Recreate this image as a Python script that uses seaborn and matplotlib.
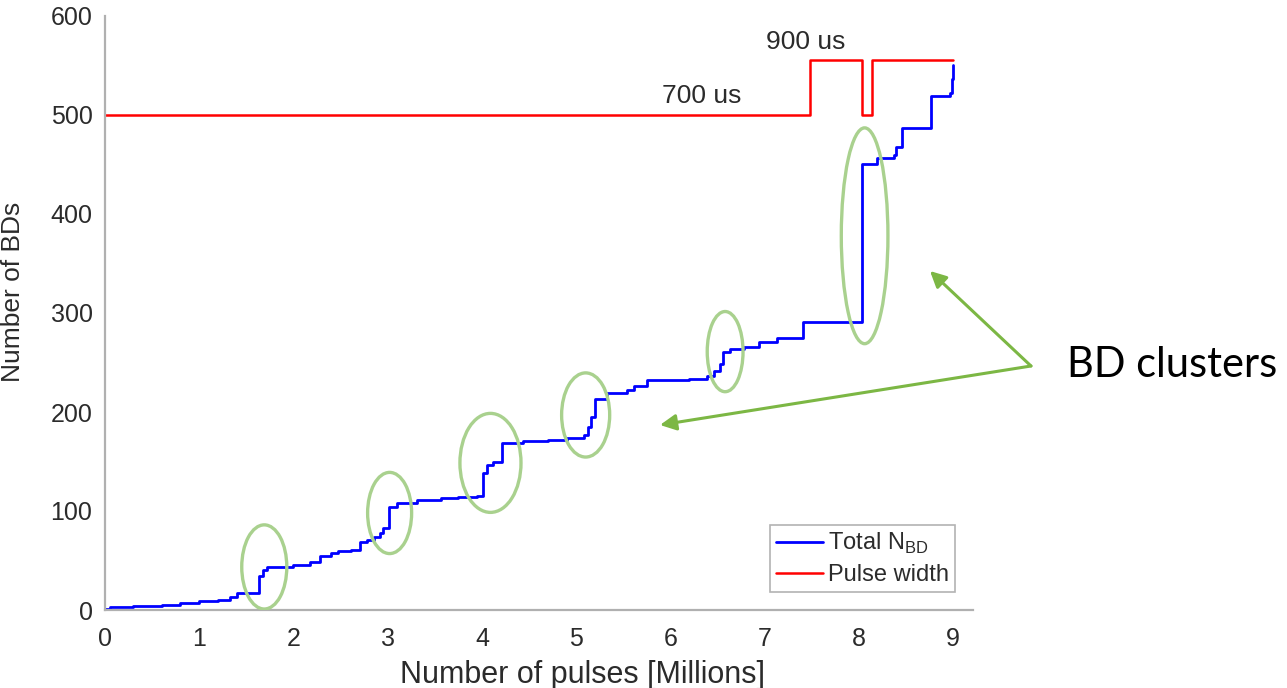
import numpy as np
import pandas as pd
import matplotlib
matplotlib.use("Agg")
import matplotlib.pyplot as plt
import seaborn as sns
from matplotlib.patches import Ellipse

# ---------------- data ----------------
pulses_m = [0.0, 0.05, 0.3, 0.6, 0.8, 1.0, 1.2, 1.33, 1.4, 1.63, 1.68, 1.72, 2.0,
            2.18, 2.28, 2.4, 2.47, 2.61, 2.71, 2.78, 2.85, 2.92, 2.95, 3.01, 3.1,
            3.31, 3.56, 3.75, 3.95, 4.01, 4.05, 4.12, 4.21, 4.44, 4.7, 4.9, 5.08,
            5.13, 5.16, 5.2, 5.33, 5.54, 5.61, 5.75, 6.2, 6.39, 6.46, 6.53, 6.56,
            6.63, 6.78, 6.94, 7.13, 7.41, 8.03, 8.19, 8.37, 8.39, 8.46, 8.76, 8.97,
            8.99, 9.0]
total_bd = [1, 3, 4, 5, 7, 9, 10, 13, 17, 34, 40, 43, 45,
            48, 55, 58, 60, 61, 69, 71, 74, 78, 83, 104, 108,
            111, 113, 114, 115.6, 138, 146, 150, 169, 171, 172, 173.6, 177,
            185, 195, 213, 219, 222, 226, 232, 233, 236, 241, 248, 261,
            264, 266, 271, 275, 291, 451, 457, 460, 468, 487, 519, 522,
            536, 551]

pw_pulses_m = [0.0, 7.48, 8.03, 8.14, 9.0]
pulse_width = [500, 556, 500, 556, 556]

# BD cluster markers (centre x, centre y, width, height in data units)
cluster_x = [1.69, 3.02, 4.09, 5.10, 6.58, 8.06]
cluster_y = [43.5, 98, 148.6, 197, 261, 378]
cluster_w = [0.478, 0.467, 0.648, 0.51, 0.38, 0.495]
cluster_h = [85, 82, 100, 85, 81, 218]

x_ticks = [0, 1, 2, 3, 4, 5, 6, 7, 8, 9]
y_ticks = [0, 100, 200, 300, 400, 500, 600]

# ---------------- style ----------------
sns.set_theme(style="white")
plt.rcParams["font.family"] = ["Liberation Sans", "DejaVu Sans"]
plt.rcParams["mathtext.fontset"] = "custom"
plt.rcParams["mathtext.rm"] = "Liberation Sans"

W, H = 1287, 688
fig = plt.figure(figsize=(W / 100, H / 100), dpi=100)
ax = fig.add_axes([105 / W, 1 - 610 / H, (973 - 105) / W, (610 - 16) / H])

df_bd = pd.DataFrame({"pulses": pulses_m, "bd": total_bd})
df_pw = pd.DataFrame({"pulses": pw_pulses_m, "pw": pulse_width})

sns.lineplot(data=df_bd, x="pulses", y="bd", ax=ax, color="#0000ff", lw=2.0,
             drawstyle="steps-post", estimator=None, errorbar=None, sort=False,
             label=r"Total N$_{\mathregular{BD}}$")
sns.lineplot(data=df_pw, x="pulses", y="pw", ax=ax, color="#ff0000", lw=1.8,
             drawstyle="steps-post", estimator=None, errorbar=None, sort=False,
             label="Pulse width")

ax.set_xlim(0, 9.21)
ax.set_ylim(0, 600)
ax.set_xticks(x_ticks)
ax.set_yticks(y_ticks)

axis_grey = "#b0b0b0"
txt = "#2b2b2b"
for s in ["top", "right"]:
    ax.spines[s].set_visible(False)
for s in ["left", "bottom"]:
    ax.spines[s].set_color(axis_grey)
    ax.spines[s].set_linewidth(1.6)
ax.tick_params(direction="in", length=6, width=1.2, color="#909090",
               labelsize=18, labelcolor=txt)
ax.tick_params(axis="x", pad=12)
ax.tick_params(axis="y", pad=9)

ax.set_xlabel("Number of pulses [Millions]", fontsize=22, color=txt)
ax.xaxis.set_label_coords(0.55, -0.085)
ax.set_ylabel("Number of BDs", fontsize=19, color=txt)
ax.yaxis.set_label_coords(-0.092, 0.535)

ax.text(6.33, 519, "700 us", ha="center", va="center", fontsize=19, color=txt)
ax.text(7.43, 574, "900 us", ha="center", va="center", fontsize=19, color=txt)

for cx, cy, cw, ch in zip(cluster_x, cluster_y, cluster_w, cluster_h):
    ax.add_patch(Ellipse((cx, cy), cw, ch, fill=False, edgecolor="#a9d18e",
                         lw=2.4, zorder=4))

handles, labels = ax.get_legend_handles_labels()
leg = ax.legend(handles, labels, loc="lower right", bbox_to_anchor=(0.979, 0.03),
                borderaxespad=0, fontsize=17, frameon=True, fancybox=False,
                handlelength=2.0, handletextpad=0.2, borderpad=0.25,
                labelspacing=0.35, labelcolor=txt)
leg.get_frame().set_edgecolor("#a0a0a0")
leg.get_frame().set_linewidth(1.2)

# annotation arrows and label
arrow_col = "#7cb744"
tail = (1031, H - 366)
for head in [(930, H - 271), (660, H - 425)]:
    ax.annotate("", xy=head, xycoords="figure pixels", xytext=tail,
                textcoords="figure pixels", annotation_clip=False,
                arrowprops=dict(arrowstyle="-|>", color=arrow_col, lw=2.2,
                                mutation_scale=24, shrinkA=0, shrinkB=0))
fig.text(1067 / W, 1 - 377 / H, "BD clusters", fontsize=30, family="Lato",
         color="black", ha="left", va="baseline")

fig.savefig("out.png", dpi=100)
